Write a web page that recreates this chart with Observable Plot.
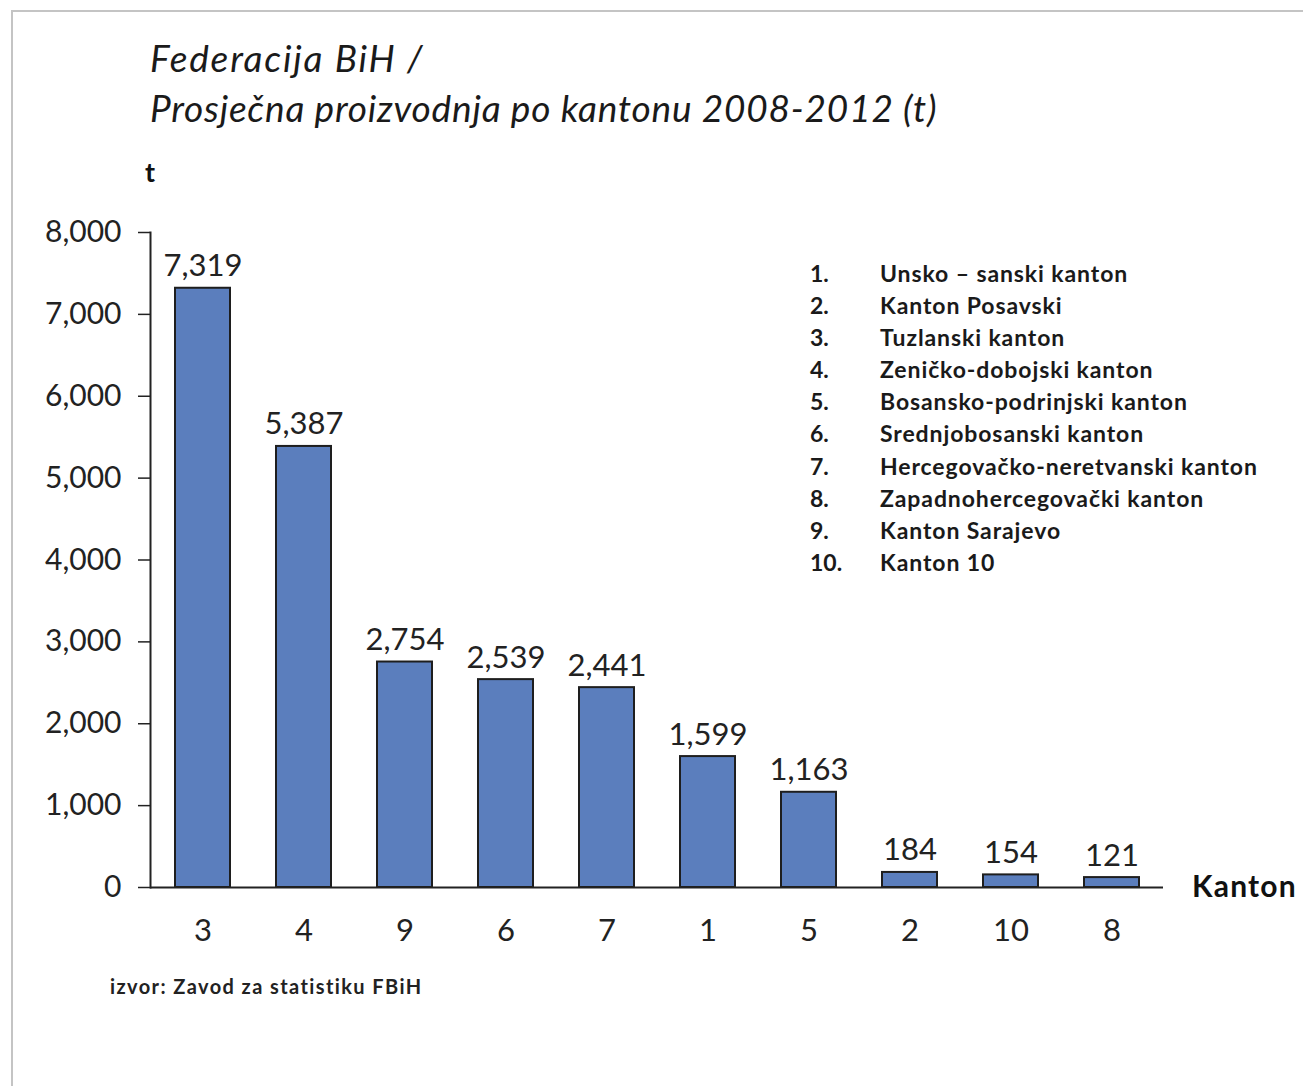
<!DOCTYPE html>
<html>
<head>
<meta charset="utf-8">
<script src="https://cdn.jsdelivr.net/npm/d3@7"></script>
<script src="https://cdn.jsdelivr.net/npm/@observablehq/plot@0.6"></script>
<style>
  html, body { margin: 0; padding: 0; background: #fff; }
  #frame { position: relative; width: 1303px; height: 1086px; overflow: hidden; background: #fff; font-family: Lato, "Open Sans", sans-serif; color: #111; }
  #border { position: absolute; left: 11px; top: 10px; right: -10px; bottom: -10px; border-left: 2px solid #c4c4c4; border-top: 2px solid #c4c4c4; }
  #title { position: absolute; left: 150px; top: 33px; font-style: italic; font-size: 37px; letter-spacing: 0.8px; line-height: 50px; color: #1a1a1a; }
  #title .l1 { letter-spacing: 1.8px; }
  #chart { position: absolute; left: 0; top: 0; }
  #ylab { position: absolute; left: 145px; top: 155px; font-weight: bold; font-size: 27px; }
  #legend { position: absolute; left: 810px; top: 257px; font-weight: bold; font-size: 23px; letter-spacing: 0.9px; line-height: 32.1px; color: #1a1a1a; }
  #legend .n { display: inline-block; width: 70px; letter-spacing: 0; }
  #xlab { position: absolute; left: 1192px; top: 867px; font-weight: bold; font-size: 30px; letter-spacing: 1.2px; }
  #source { position: absolute; left: 110px; top: 974px; font-weight: bold; font-size: 20px; letter-spacing: 1.4px; color: #222; }
</style>
</head>
<body>
<div id="frame">
  <div id="border"></div>
  <div id="chart"></div>
  <div id="title"><span class="l1">Federacija BiH /</span><br>Prosječna proizvodnja po kantonu 2008-2012 (t)</div>
  <div id="ylab">t</div>
  <div id="legend"></div>
  <div id="xlab">Kanton</div>
  <div id="source">izvor: Zavod za statistiku FBiH</div>
</div>
<script>
// Data
const kantoni = ["3", "4", "9", "6", "7", "1", "5", "2", "10", "8"];
const proizvodnja = [7319, 5387, 2754, 2539, 2441, 1599, 1163, 184, 154, 121];
const legendNumbers = ["1.", "2.", "3.", "4.", "5.", "6.", "7.", "8.", "9.", "10."];
const legendNames = [
  "Unsko – sanski kanton",
  "Kanton Posavski",
  "Tuzlanski kanton",
  "Zeničko-dobojski kanton",
  "Bosansko-podrinjski kanton",
  "Srednjobosanski kanton",
  "Hercegovačko-neretvanski kanton",
  "Zapadnohercegovački kanton",
  "Kanton Sarajevo",
  "Kanton 10"
];
const yTicks = [0, 1000, 2000, 3000, 4000, 5000, 6000, 7000, 8000];

const data = kantoni.map((k, i) => ({kanton: k, value: proizvodnja[i]}));
const fmt = d3.format(",");

const plot = Plot.plot({
  width: 1303,
  height: 1000,
  marginLeft: 150,
  marginRight: 140,
  marginTop: 232,
  marginBottom: 113,
  style: { fontFamily: "Lato, 'Open Sans', sans-serif", fontSize: "31px", color: "#222", background: "transparent" },
  x: { domain: kantoni, paddingInner: 0.46, paddingOuter: 0.21, label: null },
  y: { domain: [0, 8000], label: null },
  marks: [
    Plot.barY(data, { x: "kanton", y: "value", fill: "#5b7ebd", stroke: "#1e1e1e", strokeWidth: 2 }),
    Plot.text(data, { x: "kanton", y: "value", text: d => fmt(d.value), lineAnchor: "bottom", dy: -12, fontSize: 31, fill: "#222" }),
    Plot.ruleY([0], { stroke: "#222", strokeWidth: 2 }),
    Plot.frame({ anchor: "left", stroke: "#222", strokeWidth: 2 }),
    Plot.axisY({ ticks: yTicks, tickFormat: fmt, tickSize: 12, tickPadding: 17, fontSize: 30, stroke: "#222", strokeWidth: 1.5 }),
    Plot.axisX({ tickSize: 0, tickPadding: 31, fontSize: 31 })
  ]
});
document.getElementById("chart").appendChild(plot);

const leg = document.getElementById("legend");
legendNames.forEach((name, i) => {
  const row = document.createElement("div");
  const n = document.createElement("span");
  n.className = "n";
  n.textContent = legendNumbers[i];
  row.appendChild(n);
  row.appendChild(document.createTextNode(name));
  leg.appendChild(row);
});
</script>
</body>
</html>
